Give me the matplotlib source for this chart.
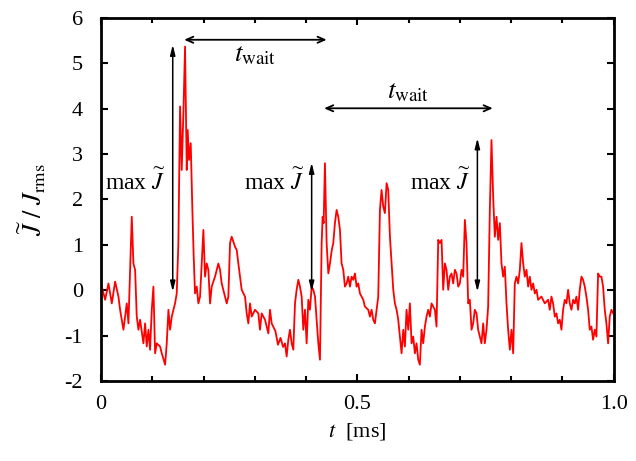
import numpy as np
import matplotlib
matplotlib.use("Agg")
import matplotlib.pyplot as plt
from matplotlib.ticker import MultipleLocator

plt.rcParams["font.family"] = ["Liberation Serif", "DejaVu Serif"]
plt.rcParams["mathtext.fontset"] = "stix"
plt.rcParams["axes.unicode_minus"] = False

# normalised current trace
t = [0.0013, 0.0078, 0.0143, 0.0208, 0.0273, 0.0338, 0.0370, 0.0435, 0.0500, 0.0533,
     0.0598, 0.0630, 0.0663, 0.0695, 0.0728, 0.0760, 0.0825, 0.0858, 0.0890, 0.0923,
     0.0955, 0.0988, 0.1020, 0.1053, 0.1085, 0.1150, 0.1183, 0.1248, 0.1280, 0.1313,
     0.1345, 0.1378, 0.1410, 0.1442, 0.1475, 0.1507, 0.1540, 0.1572, 0.1605, 0.1637,
     0.1670, 0.1689, 0.1715, 0.1748, 0.1780, 0.1806, 0.1832, 0.1865, 0.1897, 0.1930,
     0.1962, 0.1995, 0.2027, 0.2060, 0.2092, 0.2125, 0.2157, 0.2222, 0.2287, 0.2320,
     0.2352, 0.2417, 0.2450, 0.2482, 0.2515, 0.2547, 0.2612, 0.2645, 0.2677, 0.2742,
     0.2807, 0.2840, 0.2872, 0.2904, 0.2937, 0.3002, 0.3067, 0.3099, 0.3132, 0.3197,
     0.3262, 0.3294, 0.3327, 0.3400, 0.3450, 0.3500, 0.3550,
     0.3587, 0.3619, 0.3652, 0.3684, 0.3717, 0.3749, 0.3782, 0.3814, 0.3847, 0.3879,
     0.3912, 0.3944, 0.3977, 0.4009, 0.4042, 0.4074, 0.4107, 0.4139, 0.4172, 0.4204,
     0.4237, 0.4269, 0.4302, 0.4321, 0.4341, 0.4366, 0.4399, 0.4432, 0.4464, 0.4500,
     0.4529, 0.4561, 0.4594, 0.4626, 0.4659, 0.4691, 0.4724, 0.4756, 0.4789, 0.4821,
     0.4854, 0.4886, 0.4919, 0.4951, 0.4984, 0.5016, 0.5049, 0.5081, 0.5114, 0.5146,
     0.5211, 0.5244, 0.5276, 0.5309, 0.5341, 0.5374, 0.5406, 0.5439, 0.5471, 0.5504,
     0.5536, 0.5569, 0.5601, 0.5634, 0.5666, 0.5699, 0.5731, 0.5764, 0.5796, 0.5829,
     0.5861, 0.5894, 0.5926, 0.5958, 0.5991, 0.6023, 0.6056, 0.6088, 0.6121, 0.6153,
     0.6186, 0.6218, 0.6251, 0.6283, 0.6316, 0.6348, 0.6381, 0.6413, 0.6446, 0.6478,
     0.6511, 0.6543, 0.6576, 0.6608, 0.6641, 0.6673,
     0.6706, 0.6738, 0.6771, 0.6803, 0.6836, 0.6868, 0.6901, 0.6933, 0.6966, 0.6998,
     0.7031, 0.7063, 0.7096, 0.7128, 0.7161, 0.7193, 0.7226, 0.7258, 0.7290, 0.7323,
     0.7355, 0.7388, 0.7420, 0.7453, 0.7485, 0.7518, 0.7550, 0.7583, 0.7615, 0.7648,
     0.7680, 0.7713, 0.7745, 0.7778, 0.7810, 0.7843, 0.7875, 0.7908, 0.7940, 0.7973,
     0.8005, 0.8038, 0.8070, 0.8103, 0.8135, 0.8168, 0.8200, 0.8233, 0.8265, 0.8298,
     0.8330, 0.8363, 0.8395, 0.8428, 0.8460, 0.8493, 0.8525, 0.8590, 0.8655, 0.8720,
     0.8752, 0.8785, 0.8817, 0.8850, 0.8882, 0.8915, 0.8947, 0.8980, 0.9012, 0.9045,
     0.9077, 0.9110, 0.9142, 0.9175, 0.9207, 0.9240, 0.9272, 0.9305, 0.9337, 0.9370,
     0.9402, 0.9435, 0.9467, 0.9500, 0.9532, 0.9565, 0.9597, 0.9630, 0.9662, 0.9695,
     0.9727, 0.9760, 0.9792, 0.9825, 0.9857, 0.9890, 0.9922, 0.9955, 0.9990]
J = [0.08, -0.21, 0.15, -0.29, 0.19, -0.14, -0.43, -0.87, -0.29, -0.73,
     1.62, 0.59, 0.45, -0.58, -0.87, -0.65, -1.17, -0.73, -1.24, -0.87,
     -1.31, -0.43, 0.08, -1.39, -1.17, -1.24, -1.39, -1.64, -1.17, -0.43,
     -0.87, -0.58, -0.43, -0.29, -0.07, 1.04, 4.05, 2.65, 3.90, 5.37,
     2.65, 3.53, 2.87, 3.24, 1.77, 0.74, -0.07, 0.08, -0.29, -0.14,
     0.59, 1.33, 0.30, 0.59, 0.45, -0.29, 0.08, 0.30, 0.59, 0.45,
     0.15, -0.14, -0.29, -0.14, 1.04, 1.18, 0.96, 0.89, 0.59, 0.01,
     -0.14, -0.51, -0.73, -0.29, -0.58, -0.43, -0.51, -0.87, -0.51, -0.65,
     -0.95, -0.43, -0.73, -0.90, -1.20, -1.05, -1.25,
     -1.17, -1.46, -1.09, -0.87, -1.17, -1.31, -0.29, 0.01, 0.23, 0.08,
     -0.14, -0.87, -0.43, -1.17, -0.21, -0.43, 0.08, 0.01, -0.14, -0.65,
     -1.17, -1.53, 1.04, 1.62, 1.48, 2.80, 1.04, 0.37, 0.59, 0.89,
     1.04, 1.48, 1.77, 1.62, 1.33, 0.59, 0.45, 0.08, 0.15, 0.30,
     0.08, 0.30, 0.23, 0.37, 0.08, 0.15, -0.07, -0.14, -0.21, -0.36,
     -0.43, -0.58, -0.43, -0.65, -0.73, -0.43, -0.14, 1.77, 2.21, 1.84,
     1.70, 2.36, 2.21, 1.18, 0.59, 0.01, -0.29, -0.43, -0.65, -1.02,
     -1.39, -0.87, -1.24, -0.43, -0.87, -0.29, -1.17, -1.02, -1.39, -1.17,
     -1.53, -1.64, -0.87, -1.17, -0.80, -0.58, -0.43, -0.58, -0.29, -0.36,
     -0.43, -0.80, 1.11, 1.04, 1.11, 0.01,
     0.59, 0.45, 0.01, 0.30, 0.37, 0.15, 0.45, 0.37, 0.08, 0.15,
     0.45, 0.30, 1.55, 1.04, -0.29, -0.21, -0.87, -0.73, -0.43, -0.51,
     -0.87, -1.02, -1.17, -0.73, -1.17, -0.87, -0.36, 1.77, 3.31, 2.06,
     1.18, 1.62, 1.11, 1.48, 0.59, 0.30, 0.52, -0.29, -0.87, -1.31,
     -0.87, -1.39, 0.15, 0.30, 0.15, 0.45, 1.04, 0.59, 0.30, 0.45,
     0.08, 0.30, 0.01, 0.15, -0.07, 0.01, -0.21, -0.14, -0.29, -0.21,
     -0.43, -0.14, -0.29, -0.58, -0.51, -0.73, -0.65, -0.87, -0.43, -0.21,
     -0.29, 0.01, -0.29, -0.43, -0.21, -0.29, -0.14, -0.43, 0.01, 0.30,
     0.23, 0.08, -0.14, -0.43, -0.87, -0.80, -1.09, -0.87, -1.02, 0.37,
     0.30, 0.30, 0.08, -0.43, -0.73, -1.17, -0.58, -0.43, -0.51]

# annotation positions (t, J)
peaks_t = [0.1397, 0.4107, 0.7340]
peaks_top = [5.41, 2.81, 3.35]
max_label_y = 2.21
wait_y = [5.52, 4.01]
wait_t0 = [0.162, 0.435]
wait_t1 = [0.440, 0.764]
wait_label_y = [5.05, 4.23]

fig = plt.figure(figsize=(6.36, 4.61), dpi=100)
ax = fig.add_axes([0.159, 0.1735, 0.806, 0.7875])

ax.plot(t, J, color="red", linewidth=1.3)

for xp, top in zip(peaks_t, peaks_top):
    ax.annotate("", xy=(xp, top), xytext=(xp, -0.03),
                arrowprops=dict(arrowstyle="<|-|>,head_length=0.6,head_width=0.15",
                                color="black", lw=1.1, shrinkA=0, shrinkB=0))
    ax.text(xp - 0.013, max_label_y, r"max $\widetilde{J}$", ha="right", va="baseline",
            fontsize=17)

for y, a, b, ly in zip(wait_y, wait_t0, wait_t1, wait_label_y):
    ax.annotate("", xy=(a, y), xytext=(b, y),
                arrowprops=dict(arrowstyle="<->,head_length=0.5,head_width=0.22",
                                color="black", lw=1.3, shrinkA=0, shrinkB=0))
    ax.text((a + b) / 2, ly, r"$t_{\rm wait}$", ha="center", va="baseline", fontsize=19.5)

ax.set_xlim(0, 1.0)
ax.set_ylim(-2, 6)
ax.set_xticks([0, 0.5, 1.0])
ax.set_xticklabels(["0", "0.5", "1.0"])
ax.xaxis.set_minor_locator(MultipleLocator(0.1))
ax.set_yticks(range(-2, 7))
ax.tick_params(which="both", direction="in", top=True, right=True, labelsize=16, width=1.5)
ax.tick_params(which="major", length=5)
ax.tick_params(axis="x", which="major", pad=10)
ax.tick_params(axis="y", which="major", pad=13)
ax.tick_params(which="minor", length=3.5)
for s in ax.spines.values():
    s.set_linewidth(2)

ax.set_xlabel(r"$t$  [ms]", fontsize=16, labelpad=5)
ax.set_ylabel(r"$\widetilde{J}\ /\ J_{\rm rms}$", fontsize=19, labelpad=12)

fig.savefig("out.png", dpi=100)
